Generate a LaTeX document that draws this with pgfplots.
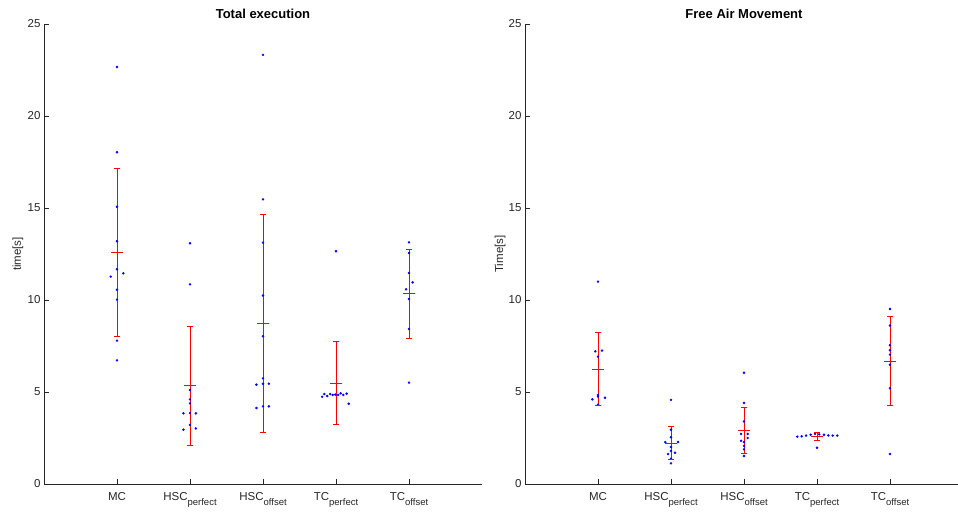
\documentclass[border=0pt]{standalone}
\usepackage{fontspec}
\setmainfont{Liberation Sans}
\usepackage{pgfplots}
\pgfplotsset{compat=1.18}

\definecolor{axgray}{rgb}{0.15,0.15,0.15}
\newcommand\sub[1]{\raisebox{-4.5pt}{\fontsize{9.5}{10}\selectfont #1}}

\pgfplotsset{
  mlstyle/.style={
    scale only axis, width=438pt, height=460pt,
    xmin=0, xmax=6, ymin=0, ymax=25,
    axis lines*=left,
    x axis line style={-, axgray},
    y axis line style={-, axgray},
    tick style={axgray, line width=0.5pt},
    tick align=inside, major tick length=5pt,
    xtick={1,2,3,4,5},
    xticklabels={MC, HSC\sub{perfect}, HSC\sub{offset}, TC\sub{perfect}, TC\sub{offset}},
    ytick={0,5,10,15,20,25},
    /pgf/number format/assume math mode=true,
    tick label style={font=\fontsize{11.5}{13}\selectfont, text=axgray},
    xticklabel style={yshift=-5pt},
    label style={font=\fontsize{11.5}{13}\selectfont, text=axgray},
    every axis title shift=0pt,
    title style={font=\bfseries\fontsize{13}{15}\selectfont, at={(axis description cs:0.5,1)}, anchor=base, yshift=5pt},
    clip=false, unbounded coords=jump,
  },
  dots/.style={blue, only marks, mark=*, mark size=1.05pt},
  whisk/.style={red, line width=0.9pt, mark=none},
  caps/.style={red, only marks, mark=-, mark size=3pt, mark options={line width=0.9pt}},
  means/.style={red, only marks, mark=-, mark size=6pt, mark options={line width=0.9pt}},
}

\begin{document}
\begin{tikzpicture}
\begin{axis}[mlstyle, at={(44pt,29pt)}, anchor=south west,
  title={Total execution}, ylabel={time[s]},
  ylabel style={at={(axis description cs:-0.0594,0.5)}, anchor=center}]
\addplot[dots] coordinates {
  (1,22.66) (1,18.03) (1,15.07) (1,13.19) (1,11.67) (1.086,11.45) (0.914,11.27)
  (1,10.56) (1,10.02) (1,7.79) (1,6.72)
  (2,13.08) (2,10.85) (2,5.11) (2,4.60) (2,4.38) (1.91,3.84) (2.08,3.84) (2,3.85)
  (2,3.21) (2.08,3.02) (1.91,2.95)
  (3,23.32) (3,15.47) (3,13.12) (3,10.24) (3,8.03) (3,5.74) (3,5.45) (3.08,5.45)
  (2.91,5.40) (3,4.22) (3.08,4.22) (2.91,4.13)
  (4,12.65) (3.81,4.74) (3.84,4.89) (3.88,4.78) (3.92,4.89) (3.955,4.84) (3.99,4.86)
  (4.03,4.84) (4.064,4.93) (4.10,4.84) (4.146,4.91) (4.174,4.36)
  (5,13.13) (5,12.55) (5,11.47) (5.05,10.96) (4.96,10.58) (5,10.05) (5,8.42) (5,5.51)
};
% mean - std, mean + std
\addplot[whisk] coordinates {
  (1,8.02) (1,17.16) (1,nan)
  (2,2.12) (2,8.56) (2,nan)
  (3,2.82) (3,14.64) (3,nan)
  (4,3.21) (4,7.73) (4,nan)
  (5,7.90) (5,12.76)
};
\addplot[caps] coordinates {
  (1,8.02) (1,17.16) (2,2.12) (2,8.56) (3,2.82) (3,14.64)
  (4,3.21) (4,7.73) (5,7.90) (5,12.76)
};
\addplot[means] coordinates {(1,12.59) (2,5.34) (3,8.73) (4,5.47) (5,10.33)};
\end{axis}

\begin{axis}[mlstyle, at={(525pt,29pt)}, anchor=south west,
  title={Free Air Movement}, ylabel={Time[s]},
  ylabel style={at={(axis description cs:-0.057,0.5)}, anchor=center}]
\addplot[dots] coordinates {
  (1,11.0) (0.963,7.21) (1.055,7.25) (1,6.92) (1,4.84) (1,4.75) (0.922,4.60)
  (1.096,4.69) (1,4.31)
  (2,4.57) (2,2.95) (2,2.54) (1.922,2.27) (2.096,2.28) (2,2.01) (1.96,1.63)
  (2.055,1.70) (2,1.79) (2,1.38) (2,1.12)
  (3,6.05) (3,4.40) (3,3.40) (2.96,2.72) (3.05,2.72) (3.05,2.50) (3,2.28)
  (2.96,2.35) (3,2.07) (3,1.88) (3,1.52)
  (4,1.97) (3.73,2.57) (3.79,2.59) (3.85,2.63) (3.914,2.68) (3.973,2.72)
  (4.03,2.70) (4.096,2.68) (4.155,2.64) (4.215,2.63) (4.278,2.63)
  (5,9.51) (5,8.61) (5,7.54) (5,7.27) (5,7.03) (5,6.48) (5,5.20) (5,1.63)
};
\addplot[whisk] coordinates {
  (1,4.28) (1,8.21) (1,nan)
  (2,1.32) (2,3.12) (2,nan)
  (3,1.68) (3,4.15) (3,nan)
  (4,2.35) (4,2.79) (4,nan)
  (5,4.26) (5,9.08)
};
\addplot[caps] coordinates {
  (1,4.28) (1,8.21) (2,1.32) (2,3.12) (3,1.68) (3,4.15)
  (4,2.35) (4,2.79) (5,4.26) (5,9.08)
};
\addplot[means] coordinates {(1,6.245) (2,2.22) (3,2.915) (4,2.57) (5,6.67)};
\end{axis}
\pgfresetboundingbox
\path[use as bounding box] (0,0) rectangle (958pt,513pt);
\end{tikzpicture}
\end{document}
